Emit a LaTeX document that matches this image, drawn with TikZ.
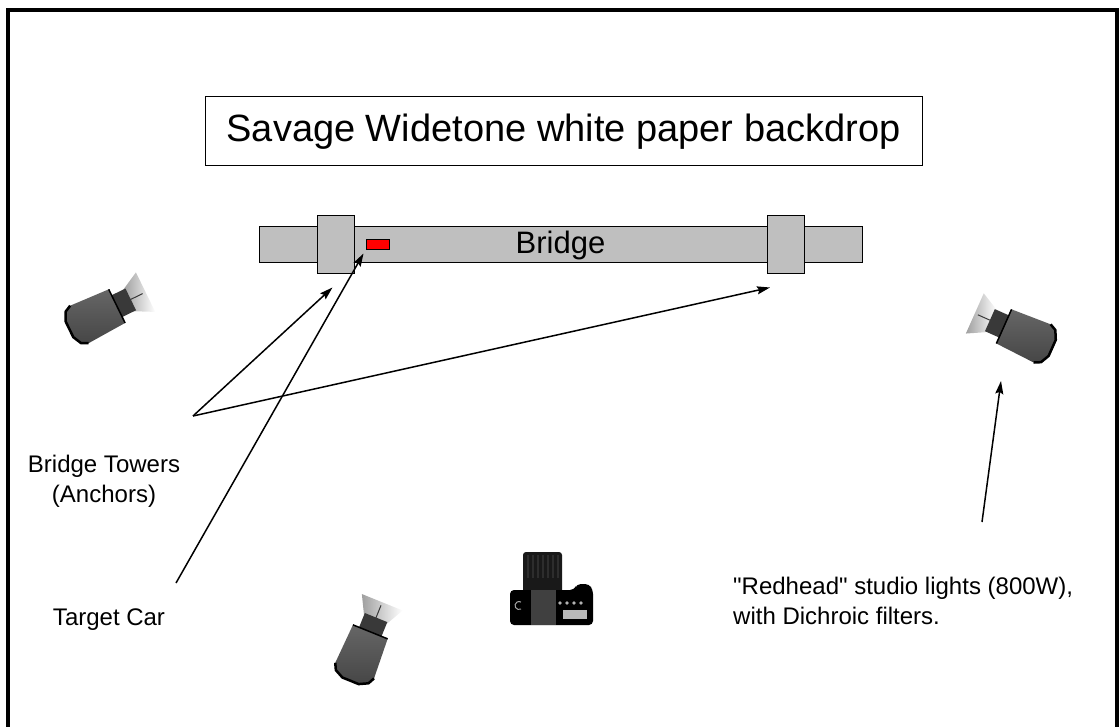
\documentclass[tikz,border=0pt]{standalone}
\usepackage{fontspec}
\setmainfont{Liberation Sans}[Ligatures=TeXOff]
\usetikzlibrary{arrows.meta,positioning}

\tikzset{
  pointer/.style={line width=1.5pt, -{Stealth[length=13pt,width=8pt,inset=2pt]}},
  steel/.style={draw, line width=1pt, fill=black!25, inner sep=0pt},
  caption/.style={font=\fontsize{24}{30}\selectfont, inner sep=0pt},
  % a redhead lamp, pointing along +x
  redhead/.pic={
    \shade[left color=gray!75, right color=white]
      (20,-11) -- (37,-20) -- (37,20) -- (20,11) -- cycle;
    \draw[gray!45!black, line width=1pt] (20,0) -- (34,0);
    \fill[gray!45!black] (8,-11) rectangle (22,11);
    \shade[top color=gray!80!black, bottom color=gray!55!black]
      (8,-17) -- (-30,-19) -- (-36,-16) -- (-40,-8) -- (-40,8)
      -- (-36,16) -- (-30,19) -- (8,17) -- cycle;
    \draw[line width=2.5pt, line join=round]
      (-30,-19) -- (-36,-16) -- (-40,-8) -- (-40,8) -- (-36,16) -- (-30,19);
    \draw[black, line width=1.5pt] (8,-17) -- (8,17);
  }
}

\begin{document}
\begin{tikzpicture}[x=1pt, y=-1pt]
  \useasboundingbox (0,0) rectangle (1119,727);
  \clip (0,0) rectangle (1119,727);
  \draw[line width=4pt] (8,10) rectangle (1117,800);

  % backdrop and bridge
  \node[draw, line width=1pt, minimum width=717pt, minimum height=69pt,
    font=\fontsize{38}{40}\selectfont] (backdrop) at (563.5,131.5)
    {Savage Widetone white paper backdrop};
  \node[steel, minimum width=603pt, minimum height=36pt,
    font=\fontsize{31}{32}\selectfont] (bridge) at (560.5,245) {Bridge};
  \node[steel, minimum width=37pt, minimum height=58pt] (towerL) at (335.5,245) {};
  \node[steel, minimum width=37pt, minimum height=58pt] (towerR) at (786,245) {};
  \node[draw, line width=1pt, fill=red, minimum width=23pt, minimum height=10pt,
    inner sep=0pt] (car) at (377.5,245) {};

  % lamps
  \pic[rotate=26, scale=1.1] at (109,310) {redhead};
  \pic[rotate=156, scale=1.1] at (1012,330) {redhead};
  \pic[rotate=68, scale=1.1] at (367,640) {redhead};

  % camera, seen from above
  \fill[black!90, rounded corners=3pt] (523,552) rectangle (562,594);
  \foreach \rx in {528,533,...,558}
    \draw[gray!35!black, line width=1.2pt] (\rx,555) -- (\rx,578);
  \fill[black, rounded corners=4pt] (510,590) -- (574,590) -- (577,584)
    -- (589,584) -- (593,590) -- (593,625) -- (510,625) -- cycle;
  \fill[black!75] (531,590) rectangle (556,625);
  \fill[gray!55] (563,610) rectangle (587,619);
  \draw[gray!70, line width=1pt] (521,609) arc (60:300:4);
  \foreach \bx in {560,567,574,581}
    \fill[gray!60] (\bx,603) circle (1.8);

  % labels
  \node[caption, align=center] (towerslabel) at (104,481) {Bridge Towers\\(Anchors)};
  \node[caption] (carlabel) at (109,620) {Target Car};
  \node[caption, align=left, anchor=west] (lightlabel) at (733,601)
    {"Redhead" studio lights (800W),\\with Dichroic filters.};

  \coordinate (fork) at (193,416);
  \coordinate (carfoot) at (176,583);
  \coordinate (lampfoot) at (982,522);
  \coordinate (lampR) at (1012,330);
  \coordinate (towerLfoot) at ([xshift=-3pt,yshift=-13pt]towerL.south);
  \coordinate (towerRfoot) at ([xshift=-16pt,yshift=-13pt]towerR.south);

  \draw[pointer] (fork) -- (towerLfoot);
  \draw[pointer] (fork) -- (towerRfoot);
  \draw[pointer] (carfoot) -- ([xshift=-2pt,yshift=-3pt]car.south west);
  \draw[pointer] (lampfoot) -- ([xshift=-11pt,yshift=-51pt]lampR);
\end{tikzpicture}
\end{document}
